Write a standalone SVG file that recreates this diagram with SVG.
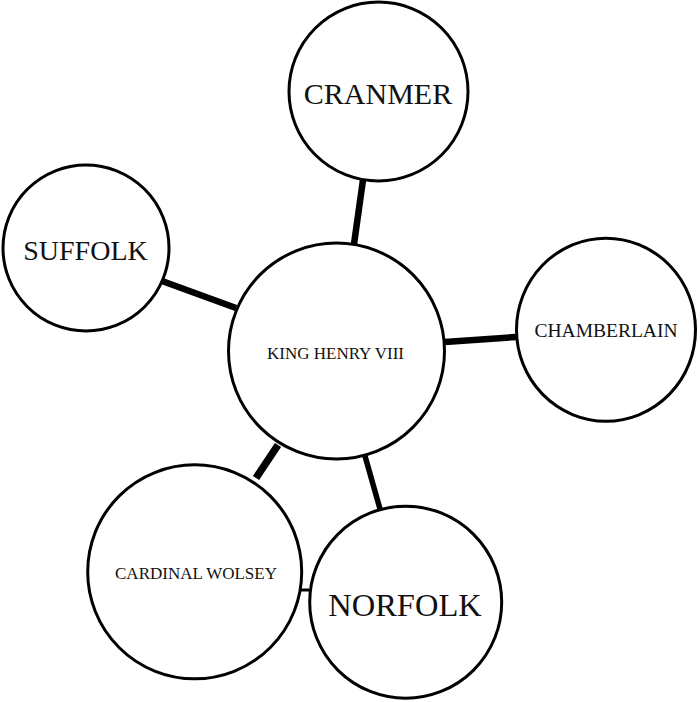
<svg xmlns="http://www.w3.org/2000/svg" width="700" height="702" viewBox="0 0 700 702">
<style>
.node{fill:#fff;stroke:#000;stroke-width:3}
.lbl{font-family:"Liberation Serif","Times New Roman",serif;fill:#111;text-anchor:middle}
.edge{stroke:#000;stroke-linecap:butt}
</style>
<rect width="700" height="702" fill="#fff"/>
<g id="connectors">
<line class="edge" x1="363" y1="180" x2="354" y2="244" stroke-width="6.5"/>
<line class="edge" x1="162" y1="281" x2="236" y2="308" stroke-width="6.5"/>
<line class="edge" x1="445" y1="342" x2="516" y2="337" stroke-width="6.5"/>
<line class="edge" x1="278" y1="445" x2="256" y2="478" stroke-width="7.5"/>
<line class="edge" x1="365" y1="456" x2="380" y2="509" stroke-width="5.5"/>
<line class="edge" x1="301" y1="590" x2="309" y2="590" stroke-width="3"/>
</g>
<g id="king">
<circle class="node" cx="336.5" cy="351" r="108"/>
<text class="lbl" x="335.5" y="359" font-size="17">KING HENRY VIII</text>
</g>
<g id="cranmer">
<circle class="node" cx="378.5" cy="91.5" r="89.5"/>
<text class="lbl" x="378" y="104" font-size="30">CRANMER</text>
</g>
<g id="suffolk">
<circle class="node" cx="86" cy="248" r="83"/>
<text class="lbl" x="85.5" y="260" font-size="28">SUFFOLK</text>
</g>
<g id="chamberlain">
<ellipse class="node" cx="606" cy="329.7" rx="89.5" ry="91.5"/>
<text class="lbl" x="606" y="337" font-size="19.5">CHAMBERLAIN</text>
</g>
<g id="wolsey">
<circle class="node" cx="194.7" cy="571.8" r="107"/>
<text class="lbl" x="196" y="579" font-size="17">CARDINAL WOLSEY</text>
</g>
<g id="norfolk">
<circle class="node" cx="405.7" cy="602.2" r="96"/>
<text class="lbl" x="405" y="615.7" font-size="32.5">NORFOLK</text>
</g>
</svg>
